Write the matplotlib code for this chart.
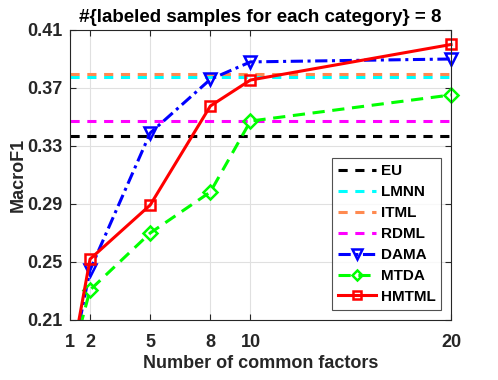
import matplotlib
matplotlib.use("Agg")
import matplotlib.pyplot as plt
from matplotlib.patches import Rectangle

factors = [1, 2, 5, 8, 10, 20]
eu = 0.337
lmnn = 0.3778
itml = 0.3797
rdml = 0.3472
dama = [0.176, 0.2445, 0.339, 0.376, 0.388, 0.390]
mtda = [0.179, 0.2307, 0.270, 0.2983, 0.3472, 0.3652]
hmtml = [0.176, 0.252, 0.2893, 0.3576, 0.3755, 0.400]
xticks = [1, 2, 5, 8, 10, 20]
yticks = [0.21, 0.25, 0.29, 0.33, 0.37, 0.41]

plt.rcParams['font.family'] = ['Liberation Sans', 'DejaVu Sans']
plt.rcParams['font.weight'] = 'bold'

fig = plt.figure(figsize=(4.98, 3.80), dpi=100)
ax = fig.add_axes([70/498, 1-320/380, 381/498, 290/380])

xr = [factors[0], factors[-1]]
lw = 2.2
ax.plot(xr, [eu, eu], color='black', ls=(0, (3, 2.5)), lw=lw, label='EU')
ax.plot(xr, [lmnn, lmnn], color='cyan', ls=(0, (3, 2.5)), lw=lw, label='LMNN')
ax.plot(xr, [itml, itml], color='#ff8a50', ls=(0, (3, 2.5)), lw=lw, label='ITML')
ax.plot(xr, [rdml, rdml], color='magenta', ls=(0, (3, 2.5)), lw=lw, label='RDML')
l1, = ax.plot(factors, dama, color='blue', ls=(0, (4, 1.5, 1, 1.5)), lw=lw, marker='v',
              markersize=9, markerfacecolor='none', markeredgewidth=1.8, label='DAMA')
l2, = ax.plot(factors, mtda, color='#00ff00', ls=(0, (4, 2.5)), lw=lw, marker='D',
              markersize=7, markerfacecolor='none', markeredgewidth=1.8, label='MTDA')
l3, = ax.plot(factors, hmtml, color='red', ls='-', lw=lw, marker='s',
              markersize=7, markerfacecolor='none', markeredgewidth=1.8, label='HMTML')
for ln in (l1, l2, l3):
    clip = Rectangle((0, 0), 1.06, 1.06, transform=ax.transAxes, visible=False)
    ax.add_patch(clip)
    ln.set_clip_path(clip)

ax.set_xlim(1, 20)
ax.set_ylim(0.21, 0.41)
ax.set_xticks(xticks)
ax.set_xticklabels([str(v) for v in xticks])
ax.set_yticks(yticks)
ax.set_yticklabels(['%.2f' % v for v in yticks])
ax.grid(True, color='#e0e0e0', lw=0.8)
ax.set_axisbelow(True)
ax.tick_params(direction='in', top=True, right=True, labelsize=13, colors='#262626',
               length=4, width=0.8)
ax.tick_params(axis='x', pad=10)
ax.tick_params(axis='y', pad=5.5)
for s in ax.spines.values():
    s.set_color('#262626')
    s.set_linewidth(0.8)

ax.set_xlabel('Number of common factors', fontsize=13, fontweight='bold', color='#262626',
              labelpad=3)
ax.set_ylabel('MacroF1', fontsize=13, fontweight='bold', color='#262626', labelpad=0)
ax.set_title('#{labeled samples for each category} = 8', fontsize=13.5, fontweight='bold',
             color='black', pad=6)

leg = ax.legend(loc='lower right', bbox_to_anchor=(0.975, 0.035), fontsize=11,
                frameon=True, fancybox=False, handlelength=2.5, handletextpad=0.3,
                labelspacing=0.45, borderpad=0.4, borderaxespad=0, markerscale=0.75)
leg.get_frame().set_edgecolor('#262626')
leg.get_frame().set_linewidth(0.8)

fig.savefig('out.png', dpi=100)
